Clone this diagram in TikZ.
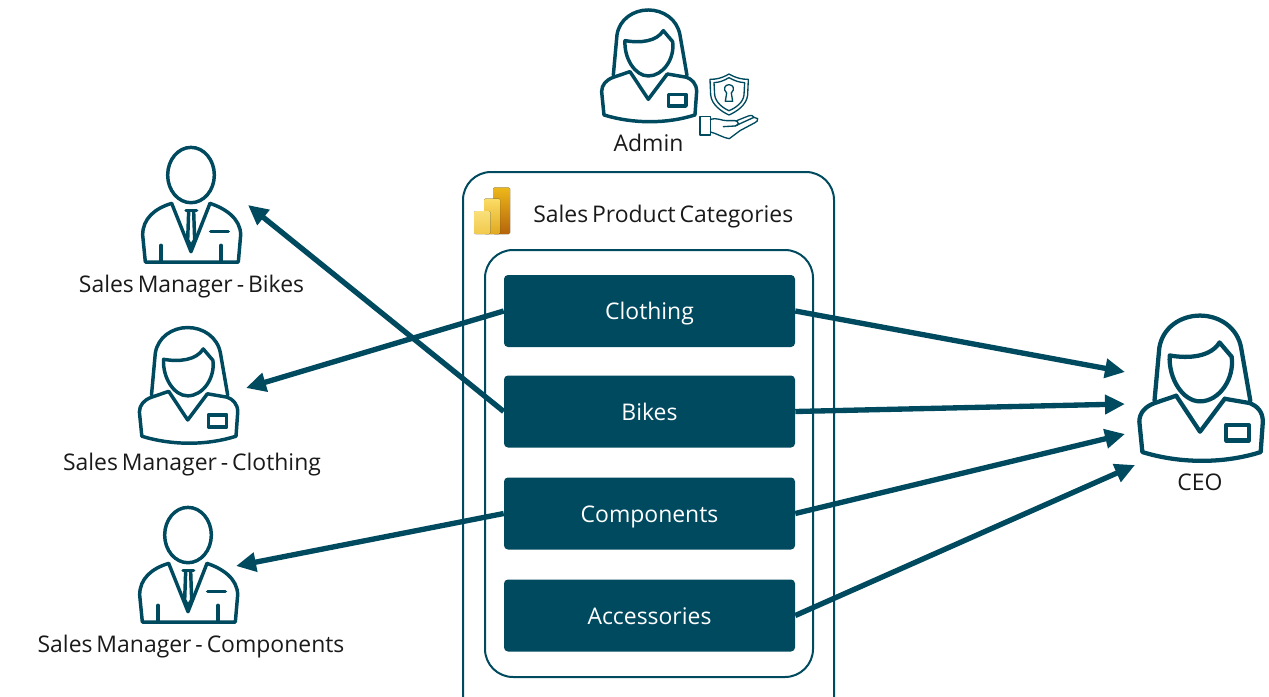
\documentclass[tikz,border=0pt]{standalone}
\usepackage{fontspec}
\setmainfont{Open Sans}
\usetikzlibrary{arrows.meta}
\definecolor{deepteal}{HTML}{004A60}
\definecolor{labelink}{HTML}{1A1A1A}
\definecolor{biA}{HTML}{F9E07A}
\definecolor{biB}{HTML}{F2C94C}
\definecolor{biC}{HTML}{FBDD66}
\definecolor{biD}{HTML}{E0A820}
\definecolor{biE}{HTML}{EDB81A}
\definecolor{biF}{HTML}{B5640A}
\newcommand{\labfont}{\fontsize{17.2}{20}\selectfont\spaceskip 0.17em\relax}
\tikzset{
  iconline/.style={draw=deepteal,line width=2.6pt,line join=round,line cap=round},
  thinline/.style={draw=deepteal,line width=1pt,line join=round,line cap=round},
  catbox/.style={fill=deepteal,draw=none,rounded corners=3pt,minimum width=218.25pt,minimum height=54pt,text=white,font=\fontsize{17.2}{20}\selectfont,inner sep=0pt,text height=16pt,text depth=3.2pt},
  lab/.style={text=labelink,font=\labfont,inner sep=0pt,text height=16pt,text depth=4pt},
  flow/.style={draw=deepteal,line width=4pt,-{Triangle[length=15pt,width=14pt]}},
  frame/.style={draw=deepteal,line width=1.5pt,fill=white},
  womanicon/.pic={
    \begin{scope}[shift={(-205,-298)}]
      \draw[iconline] (100,226) -- (111,105) .. controls (118,58) and (160,30) .. (205,30) .. controls (250,30) and (292,58) .. (300,105) -- (321,226);
      \draw[iconline] (135,122) .. controls (180,130) and (230,125) .. (250,92) -- (278,125) .. controls (285,175) and (250,228) .. (205,228) .. controls (165,228) and (132,175) .. (135,122) -- cycle;
      \draw[iconline] (150,215) -- (205,298) -- (262,222);
      \draw[iconline] (150,215) -- (100,232) .. controls (78,240) and (65,255) .. (65,275) -- (72,345) .. controls (160,372) and (260,372) .. (345,345) -- (350,275) .. controls (350,250) and (335,238) .. (320,232) -- (262,222);
      \draw[iconline] (265,283) rectangle (318,318);
    \end{scope}
  },
  manicon/.pic={
    \begin{scope}[shift={(-213,-335)}]
      \draw[iconline] (213,105) ellipse [x radius=70,y radius=83];
      \draw[iconline] (155,190) -- (213,335) -- (270,190);
      \draw[iconline] (155,190) .. controls (105,205) and (68,235) .. (68,285) -- (76,366) -- (355,366) -- (362,285) .. controls (362,235) and (315,205) .. (270,190);
      \draw[iconline] (198,212) -- (230,212);
      \draw[iconline] (206,214) -- (203,300) -- (213,318) -- (224,300) -- (221,214);
      \draw[iconline] (272,275) -- (325,275);
      \draw[iconline] (123,316) -- (123,366);
      \draw[iconline] (303,316) -- (303,366);
    \end{scope}
  }
}
\begin{document}
\begin{tikzpicture}[x=0.75pt,y=-0.75pt]
\useasboundingbox (0,0) rectangle (1269,696);
\clip (0,0) rectangle (1269,696);

% containers
\draw[frame,rounded corners=21pt] (463,172) rectangle (834,730);
\draw[frame,rounded corners=21pt] (485,250) rectangle (813,677);

% Power BI logo
\fill[rounded corners=1pt,top color=biE,bottom color=biF] (493,187.5) rectangle (510,234);
\fill[rounded corners=1pt,top color=biC,bottom color=biD] (484,198.5) rectangle (500,234);
\fill[rounded corners=1pt,top color=biA,bottom color=biB] (474,211) rectangle (490.5,234);

% category boxes
\node[catbox] (clothing) at (649.5,311) {Clothing};
\node[catbox] (bikes) at (649.5,411.5) {Bikes};
\node[catbox] (components) at (649.5,513.5) {Components};
\node[catbox] (accessories) at (649.5,615.5) {Accessories};

% icons
\pic[scale=0.3333] (adminicon) at (648.3,99.3) {womanicon};
\pic[scale=0.3333] (bikesicon) at (191,251.7) {manicon};
\pic[scale=0.345] (clothingicon) at (187.7,420) {womanicon};
\pic[scale=0.3333] (componentsicon) at (188,611.7) {manicon};
\pic[scale=0.4333,iconline/.append style={line width=3.2pt}] (ceoicon) at (1200,431.7) {womanicon};

% shield and hand
\begin{scope}[shift={(580,0)},scale=0.3333]
  \draw[thinline] (447,222) .. controls (425,235) and (410,238) .. (390,238) -- (392,285) .. controls (395,315) and (425,335) .. (447,345) .. controls (470,335) and (500,315) .. (503,285) -- (505,238) .. controls (485,238) and (470,235) .. (447,222) -- cycle;
  \draw[thinline] (447,233) .. controls (430,243) and (418,247) .. (402,248) -- (404,285) .. controls (407,308) and (430,325) .. (447,332) .. controls (465,325) and (490,308) .. (492,285) -- (494,248) .. controls (478,247) and (465,243) .. (447,233) -- cycle;
  \draw[thinline] (440,279) .. controls (428,268) and (434,254) .. (447,254) .. controls (460,254) and (466,268) .. (454,279) -- (458,304) -- (436,304) -- cycle;
  \draw[thinline] (360,349) rectangle (391,405);
  \draw[thinline] (391,358) .. controls (410,352) and (425,362) .. (440,362) -- (465,362) .. controls (478,364) and (478,376) .. (465,378) -- (430,380);
  \draw[thinline] (470,362) -- (505,348) .. controls (515,344) and (520,348) .. (522,352) -- (533,356) .. controls (535,362) and (530,365) .. (525,368) -- (480,392) -- (448,416) .. controls (425,412) and (410,400) .. (391,396);
  \draw[thinline] (465,378) -- (500,362) -- (522,352);
\end{scope}

% labels
\node[lab] (adminlabel) at (648.5,143.5) {Admin};
\node[lab,anchor=west] (reportlabel) at (533,214.5) {Sales Product Categories};
\node[lab] (bikeslabel) at (191.5,284) {Sales Manager - Bikes};
\node[lab] (clothinglabel) at (192,462.5) {Sales Manager - Clothing};
\node[lab] (componentslabel) at (191,644.5) {Sales Manager - Components};
\node[lab] (ceolabel) at (1200,482.5) {CEO};

% connector free ends
\coordinate (tipbikes) at (248,205);
\coordinate (tipclothing) at (246,388);
\coordinate (tipcomponents) at (236,566);
\coordinate (ceoA) at (1125,372);
\coordinate (ceoB) at (1125,404);
\coordinate (ceoC) at (1125,434);
\coordinate (ceoD) at (1135,465);

\draw[flow] (bikes.west) -- (tipbikes);
\draw[flow] (clothing.west) -- (tipclothing);
\draw[flow] (components.west) -- (tipcomponents);
\draw[flow] (clothing.east) -- (ceoA);
\draw[flow] (bikes.east) -- (ceoB);
\draw[flow] (components.east) -- (ceoC);
\draw[flow] (accessories.east) -- (ceoD);
\end{tikzpicture}
\end{document}
